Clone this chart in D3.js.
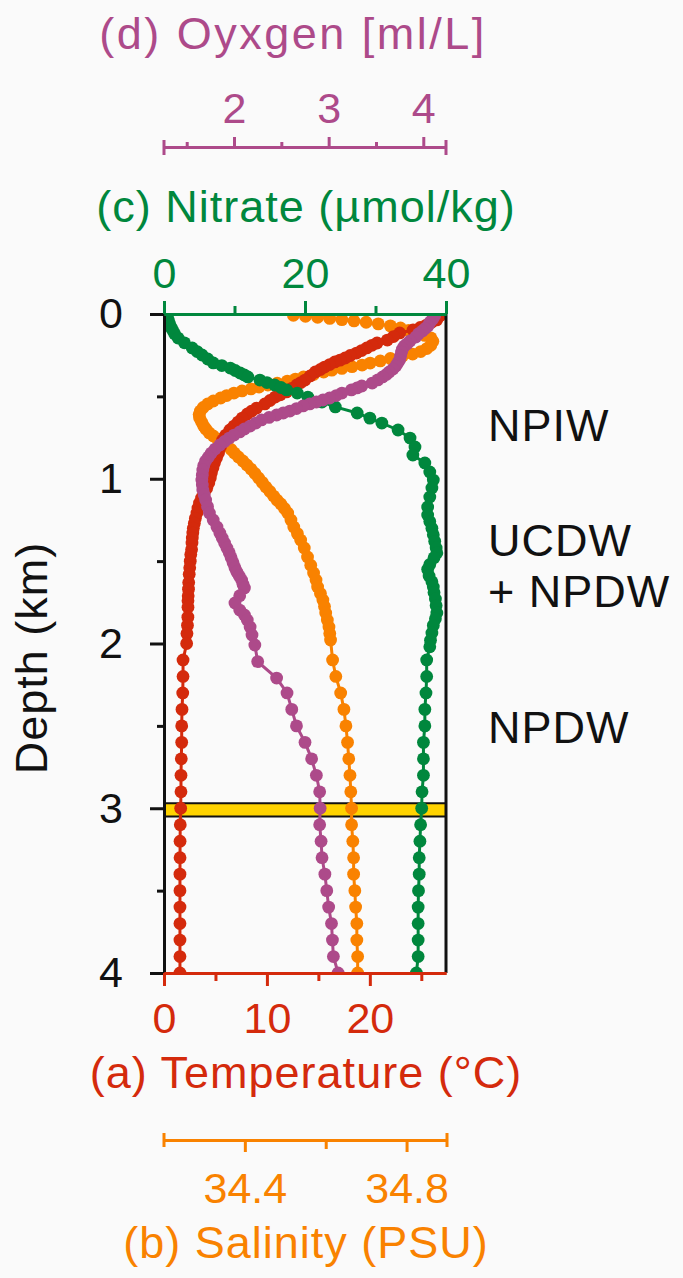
<!DOCTYPE html>
<html><head><meta charset="utf-8">
<script src="https://cdn.jsdelivr.net/npm/d3@7"></script>
<style>
html,body{margin:0;padding:0;background:#fafafa;}
svg{display:block;}
</style></head><body>
<svg id="chart" width="683" height="1278"></svg>
<script>
// ---------------- DATA ----------------
// Depth axis (km)
const depthDomain = [0, 4];
const depthTicks = [0, 1, 2, 3, 4];
const depthMinorTicks = [0.5, 1.5, 2.5, 3.5];

// (a) Temperature (°C)
const tempDomain = [0, 27.4];
const tempTicks = [0, 10, 20];
const tempMinorTicks = [5, 15, 25];
const tempDepth = [0.01,0.036,0.05,0.067,0.082,0.097,0.115,0.137,0.158,0.176,0.19,0.206,0.222,0.237,0.252,0.267,0.28,0.291,0.307,0.322,0.337,0.352,0.376,0.401,0.416,0.431,0.452,0.473,0.49,0.504,0.525,0.546,0.571,0.59,0.607,0.632,0.656,0.68,0.704,0.735,0.765,0.805,0.844,0.874,0.904,0.935,0.965,0.995,1.026,1.057,1.087,1.117,1.147,1.178,1.208,1.24,1.27,1.30,1.33,1.36,1.39,1.43,1.46,1.50,1.54,1.58,1.63,1.67,1.71,1.74,1.78,1.84,1.89,1.94,2.0,2.1,2.2,2.3,2.4,2.5,2.6,2.7,2.8,2.9,3.0,3.1,3.2,3.3,3.4,3.5,3.6,3.7,3.8,3.9,4.0];
const tempValues = [26.8,26.5,26.0,25.5,24.9,24.2,22.9,22.3,21.7,20.7,20.2,19.7,19.2,18.7,18.1,17.6,17.1,16.6,16.1,15.6,15.2,14.7,14.2,13.7,13.3,12.9,12.4,11.9,11.3,10.8,10.3,9.8,9.0,8.5,8.1,7.6,7.2,6.8,6.4,6.0,5.7,5.5,5.3,5.1,4.9,4.75,4.6,4.5,4.35,4.15,3.9,3.65,3.45,3.3,3.2,3.05,2.95,2.85,2.8,2.75,2.72,2.68,2.6,2.55,2.5,2.45,2.4,2.38,2.35,2.33,2.33,2.32,2.28,2.23,2.2,1.85,1.85,1.82,1.75,1.72,1.72,1.68,1.65,1.65,1.62,1.58,1.56,1.56,1.55,1.55,1.55,1.55,1.55,1.55,1.55];

// (b) Salinity (PSU)
const salDomain = [34.2, 34.9];
const salTicks = [34.4, 34.8];
const salMinorTicks = [34.6];
const salDepth = [0.008,0.014,0.02,0.027,0.034,0.042,0.05,0.06,0.072,0.085,0.1,0.115,0.13,0.145,0.165,0.19,0.21,0.228,0.243,0.255,0.27,0.285,0.298,0.31,0.32,0.33,0.341,0.352,0.367,0.382,0.395,0.407,0.42,0.431,0.443,0.455,0.467,0.48,0.495,0.51,0.528,0.546,0.567,0.589,0.61,0.631,0.655,0.68,0.7,0.722,0.74,0.76,0.78,0.8,0.822,0.844,0.868,0.892,0.916,0.941,0.968,0.995,1.022,1.05,1.077,1.105,1.13,1.153,1.18,1.208,1.25,1.293,1.333,1.372,1.42,1.475,1.525,1.572,1.615,1.657,1.697,1.736,1.776,1.815,1.858,1.9,1.94,1.979,2.1,2.2,2.3,2.4,2.5,2.6,2.7,2.8,2.9,3.0,3.1,3.2,3.3,3.4,3.5,3.6,3.7,3.8,3.9,4.0];
const salValues = [34.52,34.55,34.58,34.61,34.64,34.67,34.70,34.73,34.76,34.785,34.805,34.825,34.845,34.86,34.865,34.86,34.85,34.835,34.815,34.79,34.76,34.735,34.71,34.69,34.665,34.64,34.615,34.595,34.57,34.545,34.525,34.505,34.48,34.457,34.435,34.415,34.393,34.373,34.355,34.34,34.322,34.308,34.297,34.29,34.287,34.288,34.293,34.298,34.304,34.312,34.322,34.333,34.345,34.355,34.366,34.374,34.384,34.395,34.405,34.415,34.425,34.434,34.443,34.452,34.462,34.471,34.48,34.489,34.498,34.506,34.514,34.521,34.53,34.538,34.547,34.555,34.563,34.57,34.576,34.58,34.587,34.593,34.597,34.6,34.604,34.608,34.61,34.612,34.617,34.625,34.637,34.645,34.65,34.654,34.657,34.66,34.662,34.664,34.664,34.667,34.669,34.669,34.672,34.674,34.677,34.677,34.679,34.679];

// (c) Nitrate (µmol/kg)
const nitDomain = [0, 40];
const nitTicks = [0, 20, 40];
const nitMinorTicks = [10, 30];
const nitDepth = [0.0,0.012,0.024,0.036,0.06,0.08,0.097,0.12,0.146,0.175,0.206,0.228,0.249,0.273,0.297,0.313,0.328,0.343,0.358,0.37,0.382,0.401,0.416,0.431,0.446,0.461,0.48,0.504,0.534,0.564,0.601,0.632,0.662,0.704,0.753,0.807,0.856,0.904,0.959,1.008,1.056,1.111,1.171,1.22,1.26,1.30,1.34,1.38,1.42,1.45,1.48,1.52,1.55,1.59,1.625,1.657,1.69,1.73,1.77,1.815,1.85,1.89,1.936,1.98,2.02,2.1,2.2,2.3,2.4,2.5,2.6,2.7,2.8,2.9,3.0,3.1,3.2,3.3,3.4,3.5,3.6,3.7,3.8,3.9,4.0];
const nitValues = [0.1,0.3,0.5,0.6,0.8,1.0,1.2,1.5,2.0,2.9,4.0,4.7,5.4,6.2,7.0,8.2,9.4,10.1,10.8,11.4,11.9,13.6,14.6,15.7,16.6,17.4,18.9,20.4,22.4,24.3,27.4,29.2,30.9,33.2,34.9,35.6,35.3,37.0,37.7,38.2,38.0,37.7,37.4,37.4,37.7,38.0,38.2,38.4,38.6,38.7,38.3,37.7,37.4,37.6,38.0,38.2,38.3,38.5,38.6,38.7,38.5,38.2,38.0,37.8,37.7,37.26,37.26,37.16,37.0,37.0,36.8,36.8,36.8,36.6,36.55,36.4,36.3,36.2,36.2,36.1,36.05,36.05,36.05,36.05,35.8];

// (d) Oxygen (ml/L)
const oxyDomain = [1.26, 4.24];
const oxyTicks = [2, 3, 4];
const oxyMinorTicks = [1.5, 2.5, 3.5];
const oxyDepth = [0.01,0.03,0.05,0.073,0.088,0.103,0.12,0.14,0.164,0.18,0.194,0.212,0.231,0.255,0.279,0.298,0.316,0.334,0.352,0.367,0.382,0.4,0.419,0.437,0.449,0.461,0.48,0.495,0.51,0.522,0.534,0.546,0.558,0.574,0.589,0.601,0.613,0.628,0.643,0.662,0.68,0.698,0.716,0.735,0.753,0.774,0.795,0.82,0.844,0.868,0.892,0.92,0.947,0.978,1.008,1.038,1.068,1.098,1.129,1.168,1.208,1.25,1.293,1.329,1.36,1.39,1.42,1.45,1.48,1.51,1.54,1.566,1.59,1.615,1.64,1.663,1.71,1.754,1.797,1.827,1.857,1.9,1.948,2.009,2.11,2.21,2.30,2.40,2.5,2.6,2.7,2.8,2.9,3.0,3.1,3.2,3.3,3.4,3.5,3.6,3.7,3.8,3.9,4.0];
const oxyValues = [4.12,4.10,4.07,4.05,4.02,3.99,3.95,3.92,3.86,3.83,3.80,3.78,3.77,3.76,3.75,3.73,3.71,3.68,3.64,3.61,3.57,3.52,3.46,3.35,3.30,3.24,3.14,3.08,3.01,2.94,2.87,2.80,2.73,2.66,2.59,2.52,2.45,2.37,2.29,2.23,2.17,2.11,2.06,2.0,1.95,1.90,1.85,1.80,1.76,1.73,1.70,1.68,1.67,1.665,1.66,1.665,1.67,1.685,1.70,1.72,1.74,1.78,1.82,1.85,1.875,1.90,1.925,1.95,1.97,1.99,2.01,2.03,2.055,2.08,2.095,2.11,2.06,2.01,2.06,2.11,2.14,2.17,2.19,2.22,2.25,2.45,2.56,2.61,2.66,2.75,2.82,2.87,2.905,2.91,2.905,2.92,2.93,2.96,2.98,3.00,3.03,3.04,3.05,3.10];

// Highlighted depth band (km)
const bandDepth = [2.97, 3.05];

// Water mass labels
const waterMassLabels = ["NPIW", "UCDW", "+ NPDW", "NPDW"];

// ---------------- STYLE / LAYOUT ----------------
const COL = {temp:"#d42a0c", sal:"#f98200", nit:"#00873d", oxy:"#ad4a8a", band:"#ffd300"};
const FONT = '"Liberation Sans", Arial, Helvetica, sans-serif';
const P = {left:164, right:446, top:314, bottom:973};

const svg = d3.select("#chart");

const y  = d3.scaleLinear().domain(depthDomain).range([P.top, P.bottom]);
const xT = d3.scaleLinear().domain(tempDomain).range([P.left, P.right]);
const xS = d3.scaleLinear().domain(salDomain).range([P.left, P.right + 1]);
const xN = d3.scaleLinear().domain(nitDomain).range([P.left, P.right]);
const xO = d3.scaleLinear().domain(oxyDomain).range([P.left, P.right]);

svg.append("defs").append("clipPath").attr("id","plotclip")
  .append("rect").attr("x",P.left).attr("y",P.top)
  .attr("width",P.right-P.left).attr("height",P.bottom-P.top);

// yellow band
const by0 = y(bandDepth[0]), by1 = y(bandDepth[1]);
svg.append("rect").attr("x",P.left).attr("y",by0)
  .attr("width",P.right-P.left).attr("height",by1-by0).attr("fill",COL.band);
[by0, by1].forEach(v => svg.append("line").attr("x1",P.left).attr("x2",P.right)
  .attr("y1",v).attr("y2",v).attr("stroke","#111").attr("stroke-width",2));

// series
const series = [
  {depth:salDepth, vals:salValues, x:xS, color:COL.sal},
  {depth:tempDepth, vals:tempValues, x:xT, color:COL.temp},
  {depth:nitDepth, vals:nitValues, x:xN, color:COL.nit},
  {depth:oxyDepth, vals:oxyValues, x:xO, color:COL.oxy}
];
const dataG = svg.append("g").attr("clip-path","url(#plotclip)");
series.forEach(s => {
  const pts = s.depth.map((d,i) => [s.x(s.vals[i]), y(d)]);
  const g = dataG.append("g");
  g.append("path").attr("d", d3.line()(pts)).attr("fill","none")
    .attr("stroke", s.color).attr("stroke-width",3);
  g.selectAll("circle").data(pts).join("circle")
    .attr("cx", p => p[0]).attr("cy", p => p[1]).attr("r",6.4).attr("fill", s.color);
});

// axes helper
function styleAxis(g, color, fs){
  g.attr("color", color).attr("font-family", FONT).attr("font-size", fs);
  g.selectAll(".domain").attr("stroke-width",3);
  g.selectAll(".tick line").attr("stroke-width",3);
}

// depth axis
const gD = svg.append("g").attr("transform",`translate(${P.left},0)`)
  .call(d3.axisLeft(y).tickValues(depthTicks).tickSize(14).tickSizeOuter(0).tickPadding(27).tickFormat(d3.format("d")));
styleAxis(gD, "#111", 43);
const gDm = svg.append("g").attr("transform",`translate(${P.left},0)`)
  .call(d3.axisLeft(y).tickValues(depthMinorTicks).tickSize(7).tickSizeOuter(0).tickFormat(""));
styleAxis(gDm, "#111", 43);

// right frame
svg.append("line").attr("x1",P.right).attr("x2",P.right).attr("y1",P.top).attr("y2",P.bottom)
  .attr("stroke","#111").attr("stroke-width",3);

// nitrate axis (top of plot)
const gN = svg.append("g").attr("transform",`translate(0,${P.top})`)
  .call(d3.axisTop(xN).tickValues(nitTicks).tickSize(13).tickSizeOuter(0).tickPadding(13));
styleAxis(gN, COL.nit, 43);
const gNm = svg.append("g").attr("transform",`translate(0,${P.top})`)
  .call(d3.axisTop(xN).tickValues(nitMinorTicks).tickSize(8).tickSizeOuter(0).tickFormat(""));
styleAxis(gNm, COL.nit, 43);

// temperature axis (bottom of plot)
const gT = svg.append("g").attr("transform",`translate(0,${P.bottom})`)
  .call(d3.axisBottom(xT).tickValues(tempTicks).tickSize(13).tickSizeOuter(0).tickPadding(16));
styleAxis(gT, COL.temp, 43);
const gTm = svg.append("g").attr("transform",`translate(0,${P.bottom})`)
  .call(d3.axisBottom(xT).tickValues(tempMinorTicks).tickSize(8).tickSizeOuter(0).tickFormat(""));
styleAxis(gTm, COL.temp, 43);

// oxygen axis (detached, top)
const oxyY = 147;
const gO = svg.append("g").attr("transform",`translate(0,${oxyY})`)
  .call(d3.axisTop(xO).tickValues(oxyTicks).tickSize(10).tickSizeOuter(0).tickPadding(14).tickFormat(d3.format("d")));
styleAxis(gO, COL.oxy, 43);
const gOm = svg.append("g").attr("transform",`translate(0,${oxyY})`)
  .call(d3.axisTop(xO).tickValues(oxyMinorTicks).tickSize(5).tickSizeOuter(0).tickFormat(""));
styleAxis(gOm, COL.oxy, 43);
xO.range().forEach(v => svg.append("line").attr("x1",v).attr("x2",v)
  .attr("y1",oxyY-7).attr("y2",oxyY+8).attr("stroke",COL.oxy).attr("stroke-width",3));

// salinity axis (detached, bottom)
const salY = 1140;
const gS = svg.append("g").attr("transform",`translate(0,${salY})`)
  .call(d3.axisBottom(xS).tickValues(salTicks).tickSize(12).tickSizeOuter(0).tickPadding(20).tickFormat(d3.format(".1f")));
styleAxis(gS, COL.sal, 43);
const gSm = svg.append("g").attr("transform",`translate(0,${salY})`)
  .call(d3.axisBottom(xS).tickValues(salMinorTicks).tickSize(9).tickSizeOuter(0).tickFormat(""));
styleAxis(gSm, COL.sal, 43);
xS.range().forEach(v => svg.append("line").attr("x1",v).attr("x2",v)
  .attr("y1",salY-7).attr("y2",salY+7).attr("stroke",COL.sal).attr("stroke-width",3));

// titles
function title(txt, x, yy, color, anchor="middle", rot=false, ls=1){
  const t = svg.append("text").text(txt).attr("fill",color)
    .attr("font-family",FONT).attr("font-size",45).attr("letter-spacing",ls)
    .attr("text-anchor",anchor);
  if (rot) t.attr("transform",`translate(${x},${yy}) rotate(-90)`);
  else t.attr("x",x).attr("y",yy);
  return t;
}
title("(d) Oyxgen [ml/L]", 293, 49, COL.oxy, "middle", false, 2.5);
title("(c) Nitrate (µmol/kg)", 306, 222, COL.nit);
title("(a) Temperature (°C)", 306, 1088, COL.temp);
title("(b) Salinity (PSU)", 306, 1258, COL.sal);
title("Depth (km)", 47, 658, "#111", "middle", true);

const wmY = [441, 556, 607, 743];
waterMassLabels.forEach((t,i) => title(t, 488, wmY[i], "#111", "start"));
</script>
</body></html>
